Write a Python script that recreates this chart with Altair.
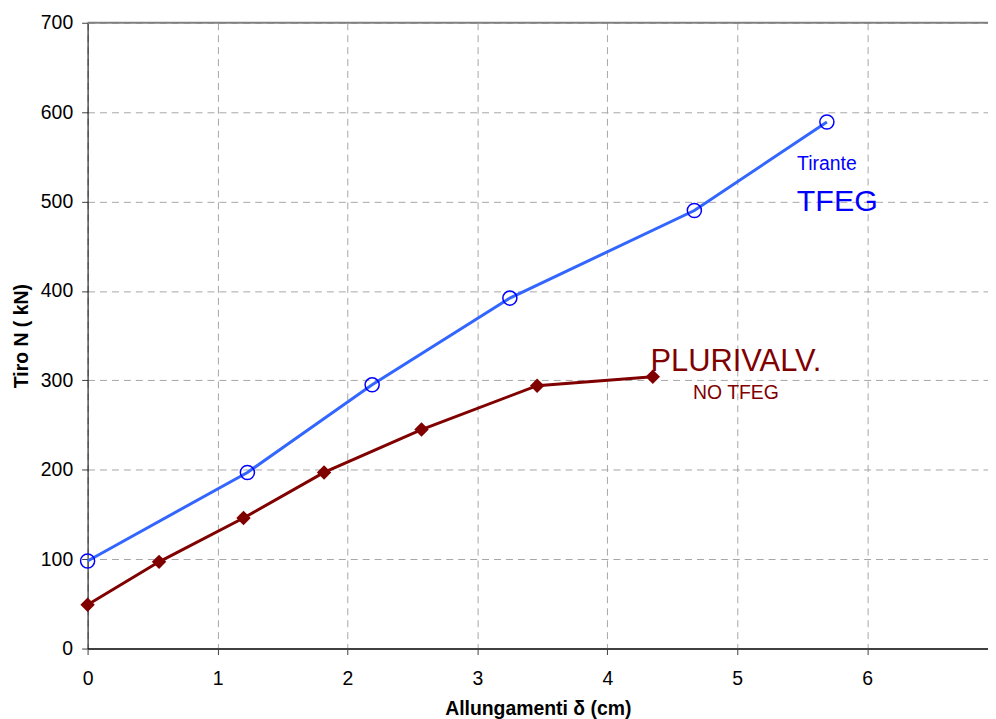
import altair as alt
import pandas as pd

# Tirante TFEG (blue)
tfeg_x = [0.0, 1.23, 2.19, 3.25, 4.67, 5.69]
tfeg_y = [98, 197, 295, 392, 490, 589]

# Plurivalv. NO TFEG (red)
pl_x = [0.0, 0.55, 1.20, 1.82, 2.57, 3.46, 4.35]
pl_y = [49, 97, 146, 197, 245, 294, 304]

# annotations
ann_text = ["Tirante", "TFEG", "PLURIVALV.", "NO TFEG"]
ann_x = [5.69, 5.77, 4.99, 4.99]
ann_y = [542, 500, 320, 286]
ann_size = [19.5, 30.5, 31, 19.5]
ann_color = ["#0000ff", "#0000ff", "#800000", "#800000"]

x_ticks = [0, 1, 2, 3, 4, 5, 6]
y_ticks = [0, 100, 200, 300, 400, 500, 600, 700]

FONT = "Liberation Sans"

df_t = pd.DataFrame({"x": tfeg_x, "y": tfeg_y})
df_p = pd.DataFrame({"x": pl_x, "y": pl_y})
df_a = pd.DataFrame({"x": ann_x, "y": ann_y, "t": ann_text, "s": ann_size, "c": ann_color})

xs = alt.Scale(domain=[0, 6.93], nice=False, zero=False)
ys = alt.Scale(domain=[0, 700], nice=False)

x_enc = alt.X("x:Q", scale=xs, axis=alt.Axis(
    values=x_ticks, title="Allungamenti δ (cm)", format="d", labelFlush=False,
    grid=True, gridDash=[7, 5], gridColor="#a6a6a6", gridWidth=1,
    domainColor="#404040", domainWidth=2, tickColor="#404040", tickSize=6,
    labelFont=FONT, labelFontSize=19.5, labelColor="#000000", labelPadding=15,
    titleFont=FONT, titleFontSize=19.5, titleFontWeight="bold", titleColor="#000000",
    titlePadding=12))
y_enc = alt.Y("y:Q", scale=ys, axis=alt.Axis(
    values=y_ticks, title="Tiro N ( kN)", labelFlush=False,
    grid=True, gridDash=[7, 5], gridColor="#a6a6a6", gridWidth=1,
    domainColor="#000000", domainWidth=1, tickColor="#404040", tickSize=6,
    labelFont=FONT, labelFontSize=19.5, labelColor="#000000", labelPadding=9,
    titleFont=FONT, titleFontSize=19.5, titleFontWeight="bold", titleColor="#000000",
    titlePadding=9))

top_rule = alt.Chart(pd.DataFrame({"y": [700]})).mark_rule(color="#808080", strokeWidth=2).encode(
    y=alt.Y("y:Q", scale=ys))

line_t = alt.Chart(df_t).mark_line(color="#3366ff", strokeWidth=3).encode(x=x_enc, y=y_enc)
pts_t = alt.Chart(df_t).mark_point(shape="circle", size=200, filled=False, color="#0000ff",
                                   strokeWidth=1.5, opacity=1).encode(
    x=alt.X("x:Q", scale=xs), y=alt.Y("y:Q", scale=ys))

line_p = alt.Chart(df_p).mark_line(color="#800000", strokeWidth=3).encode(
    x=alt.X("x:Q", scale=xs), y=alt.Y("y:Q", scale=ys))
pts_p = alt.Chart(df_p).mark_point(shape="diamond", size=210, filled=True, color="#800000",
                                   opacity=1).encode(
    x=alt.X("x:Q", scale=xs), y=alt.Y("y:Q", scale=ys))

text = alt.Chart(df_a).mark_text(font=FONT, align="center", baseline="middle").encode(
    x=alt.X("x:Q", scale=xs), y=alt.Y("y:Q", scale=ys), text="t:N",
    size=alt.Size("s:Q", scale=None, legend=None),
    color=alt.Color("c:N", scale=None, legend=None))

chart = alt.layer(top_rule, line_t, line_p, pts_t, pts_p, text).properties(
    width=905, height=629,
    autosize=alt.AutoSizeParams(type="none"),
    padding={"left": 80, "top": 13, "right": 0, "bottom": 75},
    background="#ffffff",
).configure_view(stroke=None)

chart.save("out.html", embed_options={"renderer": "svg", "actions": False})
